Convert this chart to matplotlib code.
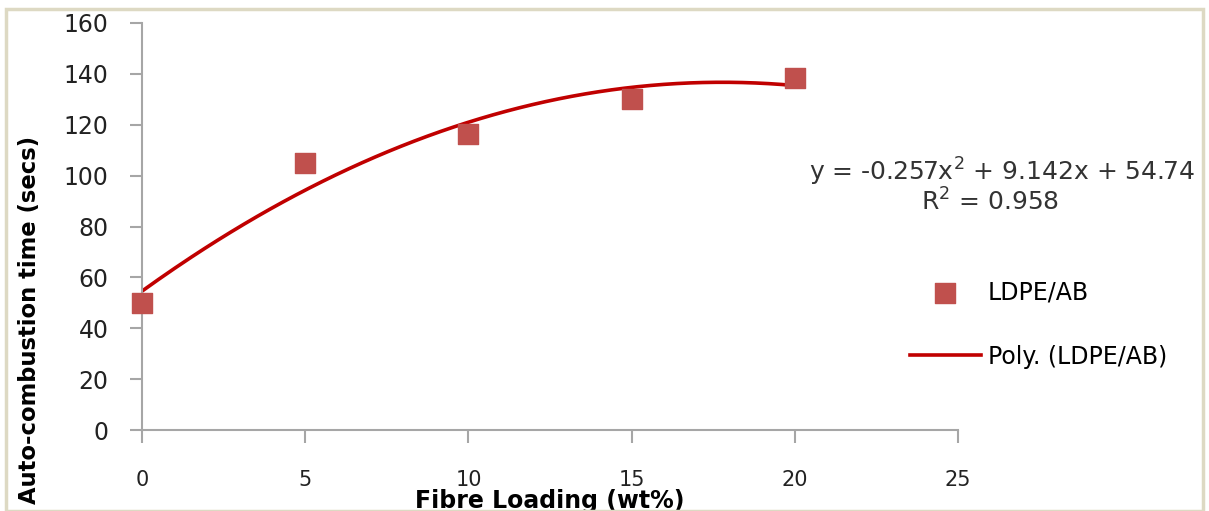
import matplotlib.pyplot as plt
import numpy as np
from matplotlib.patches import Rectangle

# data
fibre = [0, 5, 10, 15, 20]
burn_time = [50, 105, 116.5, 130, 138.5]
x_ticks = [0, 5, 10, 15, 20, 25]
y_ticks = [0, 20, 40, 60, 80, 100, 120, 140, 160]
eq_text = "y = -0.257x$^2$ + 9.142x + 54.74"
r2_text = "R$^2$ = 0.958"

plt.rcParams['font.family'] = ['DejaVu Sans']

fig = plt.figure(figsize=(12.09, 5.11), dpi=100)
fig.patches.append(Rectangle((0.005, 0.0), 0.99, 0.982, transform=fig.transFigure,
                             fill=False, edgecolor='#ddd9c3', linewidth=2.5))
ax = fig.add_axes([0.1175, 0.1585, 0.675, 0.7965])

# polynomial trendline (order 2)
coef = np.polyfit(fibre, burn_time, 2)
xs = np.linspace(0, 20, 200)
ax.plot(xs, np.polyval(coef, xs), color='#c00000', linewidth=2.6, label='Poly. (LDPE/AB)', zorder=2)
ax.scatter(fibre, burn_time, marker='s', s=210, color='#c0504d', label='LDPE/AB', zorder=3, clip_on=False)

ax.set_xlim(0, 25)
ax.set_ylim(0, 160)
ax.set_xticks(x_ticks)
ax.set_yticks(y_ticks)
for s in ['top', 'right']:
    ax.spines[s].set_visible(False)
for s in ['left', 'bottom']:
    ax.spines[s].set_color('#a6a6a6')
    ax.spines[s].set_linewidth(1.5)
ax.tick_params(axis='both', colors='#a6a6a6', length=9, width=1.5, labelcolor='#222222')
ax.tick_params(axis='x', pad=20, labelsize=15)
ax.tick_params(axis='y', pad=15, labelsize=17)

ax.set_xlabel("Fibre Loading (wt%)", fontsize=17, fontweight='bold', labelpad=-1)
fig.text(0.0248, 0.374, "Auto-combustion time (secs)", rotation=90, ha='center', va='center',
         fontsize=16.3, fontweight='bold')

fig.text(0.669, 0.663, eq_text, fontsize=18, color='#333333', ha='left', va='center')
fig.text(0.819, 0.604, r2_text, fontsize=18, color='#333333', ha='center', va='center')

handles, labels = ax.get_legend_handles_labels()
fig.legend(handles[::-1], labels[::-1], loc='center left', bbox_to_anchor=(0.735, 0.365),
           frameon=False, fontsize=17, handlelength=3.0, handletextpad=0.3, labelspacing=1.7)

fig.savefig('out.png', dpi=100)
